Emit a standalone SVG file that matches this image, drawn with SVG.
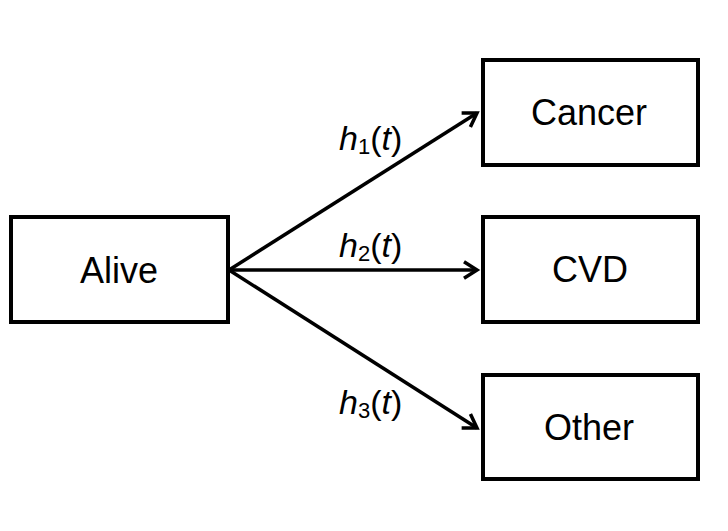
<svg xmlns="http://www.w3.org/2000/svg" width="728" height="531" viewBox="0 0 728 531">
  <style>
    .box { fill: #ffffff; stroke: #000000; stroke-width: 4; }
    .name { font-family: "Liberation Sans", Arial, sans-serif; font-size: 36px; fill: #000000; text-anchor: middle; }
    .lbl { font-family: "Liberation Sans", Arial, sans-serif; font-size: 34px; fill: #000000; }
    .sub { font-size: 22px; }
    .it { font-style: italic; }
    .edge { fill: none; stroke: #000000; stroke-width: 3.5; marker-end: url(#arrow); }
  </style>
  <defs>
    <marker id="arrow" markerUnits="userSpaceOnUse" viewBox="-16 -10 18 20" markerWidth="18" markerHeight="20" refX="0" refY="0" orient="auto" overflow="visible">
      <path d="M-13,-8.2 L0,0 L-13,8.2" fill="none" stroke="#000000" stroke-width="3.5" stroke-linejoin="miter"/>
    </marker>
  </defs>
  <rect width="728" height="531" fill="#ffffff"/>

  <g id="connectors">
    <line class="edge" x1="229" y1="270" x2="477" y2="113"/>
    <line class="edge" x1="229" y1="270" x2="477" y2="270"/>
    <line class="edge" x1="229" y1="270" x2="477" y2="428"/>
    <text class="lbl" x="339" y="150"><tspan class="it">h</tspan><tspan class="sub" dy="4">1</tspan><tspan dy="-4">(</tspan><tspan class="it">t</tspan>)</text>
    <text class="lbl" x="339" y="257"><tspan class="it">h</tspan><tspan class="sub" dy="4">2</tspan><tspan dy="-4">(</tspan><tspan class="it">t</tspan>)</text>
    <text class="lbl" x="339" y="414"><tspan class="it">h</tspan><tspan class="sub" dy="4">3</tspan><tspan dy="-4">(</tspan><tspan class="it">t</tspan>)</text>
  </g>

  <g id="alive">
    <rect class="box" x="11" y="217" width="217" height="105"/>
    <text class="name" x="119" y="283">Alive</text>
  </g>
  <g id="cancer">
    <rect class="box" x="483" y="60" width="215" height="105"/>
    <text class="name" x="589" y="125">Cancer</text>
  </g>
  <g id="cvd">
    <rect class="box" x="483" y="217" width="215" height="105"/>
    <text class="name" x="590" y="282">CVD</text>
  </g>
  <g id="other">
    <rect class="box" x="483" y="375" width="215" height="104"/>
    <text class="name" x="589" y="440">Other</text>
  </g>
</svg>
